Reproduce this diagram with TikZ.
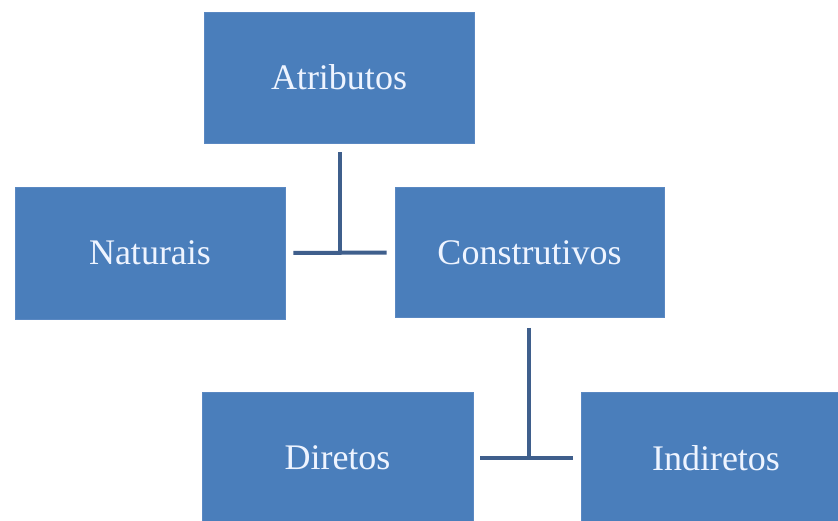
\documentclass[tikz,border=0pt]{standalone}
\usepackage{fontspec}
\setmainfont{Liberation Serif}
\definecolor{boxblue}{HTML}{4A7EBB}
\definecolor{boxedge}{HTML}{5A88C2}
\definecolor{linecol}{HTML}{3F5F8C}
\definecolor{txtcol}{HTML}{EEF4FF}
\begin{document}
\begin{tikzpicture}[x=1pt,y=1pt,
  box/.style={rectangle, fill=boxblue, draw=boxedge, line width=0.8pt,
    inner sep=0pt, text=txtcol, font=\fontsize{36}{40}\selectfont},
  conn/.style={draw=linecol, line width=4pt}]
\useasboundingbox (0,0) rectangle (838,-520);
\clip (0,0) rectangle (838,-520);
\fill[white] (0,0) rectangle (838,-520);
\node[box, minimum width=270pt, minimum height=131pt] (atr) at (339,-77.5) {Atributos};
\node[box, minimum width=270pt, minimum height=132pt] (nat) at (150,-253) {Naturais};
\node[box, minimum width=269pt, minimum height=130pt] (con) at (529.5,-252.5) {Construtivos};
\node[box, minimum width=271pt, minimum height=132pt] (dir) at (337.5,-458) {Diretos};
\node[box, minimum width=270pt, minimum height=132pt] (ind) at (716,-458) {Indiretos};
\coordinate (j1) at (340,-253);
\coordinate (j2) at (529,-457);
\draw[conn, shorten <=9pt] (atr.south -| j1) -- (j1);
\draw[conn, shorten <=8pt, shorten >=8pt] (nat.east) -- (con.west);
\draw[conn, shorten <=10pt] (con.south -| j2) -- (j2);
\draw[conn, shorten <=7pt, shorten >=8pt] (dir.east) -- (ind.west);
\end{tikzpicture}
\end{document}
